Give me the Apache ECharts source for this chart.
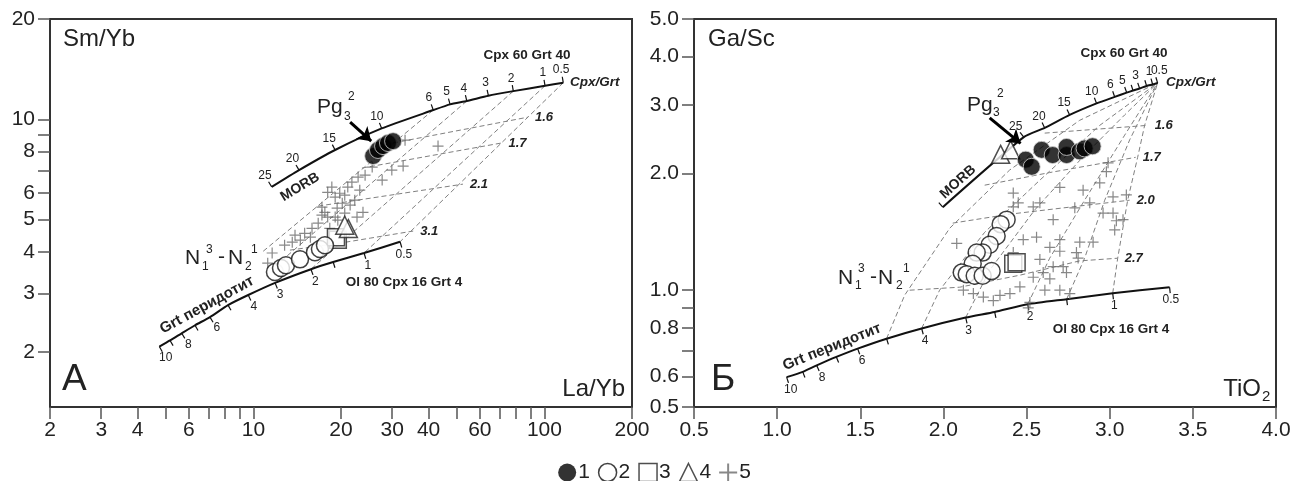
<!DOCTYPE html>
<html>
<head>
<meta charset="utf-8">
<title>Sm/Yb – La/Yb и Ga/Sc – TiO2</title>
<script src="https://cdn.jsdelivr.net/npm/echarts@6/dist/echarts.min.js"></script>
<style>
  html, body { margin: 0; padding: 0; background: #fff; }
  #chart { width: 1309px; height: 481px; }
</style>
</head>
<body>
<div id="chart"></div>
<script>
// ---------- panel A : La/Yb – Sm/Yb ----------
var aMorbMelt = ['25', '20', '15', '10', '6', '5', '4', '3', '2', '1', '0.5'];
var aMorbX = [11.56, 14.35, 19.08, 27.6, 41.5, 47.4, 54.1, 64.2, 78.2, 100.5, 116.1];
var aMorbY = [6.27, 7.04, 8.09, 9.39, 10.66, 11.09, 11.35, 11.77, 12.15, 12.61, 12.88];

var aPeridMelt = ['10', '', '8', '', '6', '', '4', '3', '2', '', '1', '0.5'];
var aPeridX = [4.75, 5.17, 5.67, 6.30, 7.09, 8.18, 9.60, 11.87, 15.77, 18.8, 24.0, 31.9];
var aPeridY = [2.08, 2.17, 2.28, 2.41, 2.55, 2.77, 2.97, 3.23, 3.55, 3.73, 3.97, 4.29];

var aMeltLines = [
  [[41.5, 10.66], [10.70, 3.99]],
  [[54.1, 11.35], [12.34, 3.73]],
  [[78.2, 12.15], [15.77, 3.55]],
  [[100.5, 12.61], [24.0, 3.97]],
  [[116.1, 12.88], [31.9, 4.29]]
];
var aRatioNames = ['1.6', '1.7', '2.1', '3.1'];
var aRatioLines = [
  [[30.2, 8.49], [87.8, 10.15]],
  [[23.6, 7.14], [71.2, 8.49]],
  [[16.7, 5.49], [52.5, 6.39]],
  [[13.35, 4.05], [19.8, 4.25], [25.2, 4.40], [35.4, 4.62]]
];

var aBlack = [[25.8, 7.76], [26.8, 8.09], [27.9, 8.31], [29.0, 8.49], [30.2, 8.60]];
var aWhite = [[11.86, 3.48], [12.44, 3.58], [12.94, 3.65], [14.46, 3.80], [16.28, 3.99], [16.93, 4.08], [17.62, 4.19]];
var aSquare = [[19.5, 4.35], [19.22, 4.43]];
var aTriangle = [[21.2, 4.70], [20.6, 4.81]];
var aCross = [
  [33.2, 8.66], [43.1, 8.31], [32.7, 7.24], [29.9, 7.04], [27.7, 6.57], [25.6, 7.19], [24.2, 6.80],
  [22.9, 6.71], [21.8, 6.48], [21.1, 6.26], [19.8, 6.00], [19.1, 5.84], [18.6, 6.26], [18.0, 6.04],
  [20.2, 5.60], [19.4, 5.41], [17.6, 5.26], [17.2, 5.16], [18.0, 5.09], [19.1, 5.09], [19.5, 4.98],
  [16.7, 4.88], [15.9, 4.71], [15.0, 4.55], [13.9, 4.49], [13.6, 4.28], [12.8, 4.19], [11.6, 3.97],
  [17.2, 5.45], [20.6, 5.23], [21.5, 5.53], [22.7, 5.09], [23.8, 5.26], [22.3, 5.72], [11.2, 3.70],
  [15.7, 4.43], [14.5, 4.34], [20.6, 5.92], [23.2, 6.13], [18.3, 4.71]
];
var aArrow = [[21.5, 9.81], [25.4, 8.60]];

// ---------- panel Б : TiO2 – Ga/Sc ----------
var bMorbMelt = ['', '25', '20', '15', '10', '6', '5', '', '3', '', '1', '0.5'];
var bMorbX = [1.996, 2.483, 2.609, 2.759, 2.921, 3.030, 3.102, 3.14, 3.180, 3.222, 3.258, 3.288];
var bMorbY = [1.637, 2.48, 2.62, 2.83, 3.03, 3.15, 3.23, 3.27, 3.31, 3.36, 3.39, 3.42];

var bPeridMelt = ['10', '', '8', '', '6', '', '4', '3', '', '2', '', '1', '0.5'];
var bPeridX = [1.057, 1.154, 1.238, 1.356, 1.484, 1.658, 1.869, 2.134, 2.308, 2.507, 2.741, 3.018, 3.360];
var bPeridY = [0.597, 0.616, 0.640, 0.673, 0.707, 0.750, 0.797, 0.850, 0.879, 0.920, 0.948, 0.982, 1.018];

var bMeltLines = [
  [[1.658, 0.750], [1.767, 0.971], [2.038, 1.445], [2.398, 2.04], [2.819, 2.74], [3.288, 3.42]],
  [[1.869, 0.797], [1.977, 1.000], [2.248, 1.41], [2.579, 1.92], [2.940, 2.66], [3.288, 3.42]],
  [[2.134, 0.850], [2.278, 1.126], [2.549, 1.61], [2.849, 2.23], [3.090, 2.83], [3.288, 3.42]],
  [[2.507, 0.920], [2.639, 1.209], [2.849, 1.706], [3.090, 2.51], [3.288, 3.42]],
  [[2.741, 0.948], [2.849, 1.209], [2.970, 1.706], [3.120, 2.44], [3.288, 3.42]],
  [[3.018, 0.982], [3.048, 1.209], [3.108, 1.706], [3.168, 2.20], [3.210, 2.66], [3.288, 3.42]]
];
var bRatioNames = ['1.6', '1.7', '2.0', '2.7'];
var bRatioLines = [
  [[2.609, 2.54], [3.228, 2.66]],
  [[2.248, 1.865], [2.639, 2.01], [3.156, 2.20]],
  [[2.056, 1.489], [2.398, 1.57], [2.759, 1.637], [3.120, 1.706]],
  [[1.797, 1.000], [2.098, 1.018], [2.459, 1.093], [2.819, 1.19], [3.048, 1.209]]
];

var bBlack = [[2.495, 2.17], [2.531, 2.08], [2.591, 2.30], [2.657, 2.23], [2.741, 2.23], [2.741, 2.34], [2.819, 2.28], [2.849, 2.32], [2.897, 2.35]];
var bWhite = [[2.380, 1.52], [2.344, 1.48], [2.320, 1.38], [2.278, 1.31], [2.236, 1.25], [2.200, 1.25],
              [2.176, 1.17], [2.110, 1.11], [2.140, 1.10], [2.188, 1.09], [2.236, 1.09], [2.290, 1.12]];
var bSquare = [[2.42, 1.17], [2.44, 1.18]];
var bTriangle = [[2.344, 2.24], [2.404, 2.30]];
var bCross = [
  [2.98, 2.02], [2.94, 1.89], [2.84, 1.81], [2.70, 1.84], [2.58, 1.68], [2.45, 1.68], [2.54, 1.64],
  [3.02, 1.74], [3.10, 1.76], [2.96, 1.58], [3.02, 1.58], [3.08, 1.52], [3.03, 1.43], [2.79, 1.63],
  [2.88, 1.68], [2.66, 1.52], [2.70, 1.35], [2.82, 1.33], [2.90, 1.33], [2.80, 1.25], [2.70, 1.26],
  [2.64, 1.29], [2.56, 1.37], [2.48, 1.35], [2.42, 1.25], [2.58, 1.20], [2.66, 1.15], [2.72, 1.15],
  [2.54, 1.08], [2.64, 1.07], [2.70, 1.00], [2.76, 0.98], [2.52, 0.93], [2.51, 0.90], [2.46, 1.02],
  [2.40, 0.98], [2.60, 1.11], [2.74, 1.11], [2.81, 1.21], [2.42, 1.64], [2.42, 1.78], [2.08, 1.32],
  [2.12, 1.00], [2.18, 0.98], [2.24, 0.96], [2.30, 0.94], [2.99, 2.13], [3.04, 1.51], [2.61, 1.00],
  [2.34, 0.97]
];
var bArrow = [[2.278, 2.78], [2.464, 2.39]];

// ---------- axes ----------
var laybTicks = [2, 3, 4, 5, 6, 7, 8, 9, 10, 20, 30, 40, 50, 60, 70, 80, 90, 100, 200];
var laybLabels = [2, 3, 4, 6, 10, 20, 30, 40, 60, 100, 200];
var smybTicks = [2, 3, 4, 5, 6, 7, 8, 9, 10, 20];
var smybLabels = [2, 3, 4, 5, 6, 8, 10, 20];
var gascTicks = [0.5, 0.6, 0.7, 0.8, 0.9, 1, 2, 3, 4, 5];
var gascLabels = [0.5, 0.6, 0.8, 1, 2, 3, 4, 5];

var FONT = '"Liberation Sans", Arial, sans-serif';
var PLUS = 'path://M4.45,0H5.55V4.45H10V5.55H5.55V10H4.45V5.55H0V4.45H4.45Z';

function pairs(xs, ys) {
  return xs.map(function (x, i) { return [x, ys[i]]; });
}

function axisBase(extra) {
  var a = {
    axisLine: { show: true, lineStyle: { color: '#333', width: 2 } },
    axisTick: { show: true, inside: false, length: 12, lineStyle: { color: '#555', width: 1.5 } },
    axisLabel: { fontSize: 21, color: '#222', fontFamily: FONT },
    splitLine: { show: false },
    minorTick: { show: false }
  };
  for (var k in extra) {
    if (typeof extra[k] === 'object' && a[k]) {
      for (var j in extra[k]) a[k][j] = extra[k][j];
    } else a[k] = extra[k];
  }
  return a;
}

function dashed(idx, pts, name) {
  var s = {
    type: 'line', xAxisIndex: idx, yAxisIndex: idx, data: pts, symbol: 'none', silent: true, z: 1,
    lineStyle: { color: '#808080', width: 1, type: [5, 3] }
  };
  if (name) {
    s.endLabel = {
      show: true, formatter: name, distance: 7, color: '#222', fontStyle: 'italic',
      fontWeight: 'bold', fontSize: 13, fontFamily: FONT
    };
  }
  return s;
}

function curve(idx, xs, ys) {
  return {
    type: 'line', xAxisIndex: idx, yAxisIndex: idx, data: pairs(xs, ys), symbol: 'none',
    smooth: 0.2, z: 3, silent: true, lineStyle: { color: '#111', width: 2 }
  };
}

// melting-degree ticks and their labels along a model curve
function curveTicks(idx, xs, ys, labels, side, lastLeft) {
  var n = xs.length;
  return {
    type: 'custom', xAxisIndex: idx, yAxisIndex: idx, data: pairs(xs, ys), z: 3, silent: true,
    renderItem: function (params, api) {
      var i = params.dataIndex;
      var p = api.coord([xs[i], ys[i]]);
      var i0 = Math.max(i - 1, 0), i1 = Math.min(i + 1, n - 1);
      var a = api.coord([xs[i0], ys[i0]]);
      var b = api.coord([xs[i1], ys[i1]]);
      var dx = b[0] - a[0], dy = b[1] - a[1];
      var L = Math.sqrt(dx * dx + dy * dy) || 1;
      var nx = side * dy / L, ny = -side * dx / L;
      var kids = [{
        type: 'line',
        shape: { x1: p[0], y1: p[1], x2: p[0] + nx * 6, y2: p[1] + ny * 6 },
        style: { stroke: '#111', lineWidth: 1.2 }
      }];
      if (labels[i]) {
        var left = lastLeft && i === n - 1;
        kids.push({
          type: 'text',
          style: {
            text: labels[i], x: p[0] + nx * 13 + (left ? -3 : 0), y: p[1] + ny * 13,
            align: left ? 'left' : 'center', verticalAlign: 'middle',
            font: '12px ' + FONT, fill: '#222'
          }
        });
      }
      return { type: 'group', children: kids };
    }
  };
}

function dots(idx, name, pts, symbol, size, style, z) {
  return {
    type: 'scatter', name: name, xAxisIndex: idx, yAxisIndex: idx, data: pts,
    symbol: symbol, symbolSize: size, itemStyle: style, z: z, silent: true
  };
}

function arrow(idx, pts) {
  return {
    type: 'lines', coordinateSystem: 'cartesian2d', xAxisIndex: idx, yAxisIndex: idx, z: 8,
    silent: true, symbol: ['none', 'arrow'], symbolSize: 13,
    lineStyle: { color: '#000', width: 3, opacity: 1 },
    data: [{ coords: pts }]
  };
}

function txt(text, x, y, size, opt) {
  opt = opt || {};
  return {
    type: 'text', x: x, y: y, rotation: opt.rot || 0, z: 20, silent: true,
    style: {
      text: text, fill: '#222',
      font: (opt.style || '') + ' ' + (opt.weight || 'normal') + ' ' + size + 'px ' + FONT,
      align: opt.align || 'left', verticalAlign: 'middle'
    }
  };
}

var blackStyle = { color: '#000', borderColor: '#cfcfcf', borderWidth: 1 };
var whiteStyle = { color: '#fff', borderColor: '#111', borderWidth: 1.5 };
var openStyle = { color: '#fff', borderColor: '#222', borderWidth: 1.5 };
var crossStyle = { color: '#6a6a6a' };

var series = [];
function addPanel(idx, morbX, morbY, morbMelt, peridX, peridY, peridMelt, meltLines, ratioLines, ratioNames,
                  black, white, square, triangle, cross, arr, lastLeft) {
  meltLines.forEach(function (l) { series.push(dashed(idx, l)); });
  ratioLines.forEach(function (l, k) { series.push(dashed(idx, l, ratioNames[k])); });
  series.push(curve(idx, morbX, morbY));
  series.push(curve(idx, peridX, peridY));
  series.push(curveTicks(idx, morbX, morbY, morbMelt, 1, lastLeft));
  series.push(curveTicks(idx, peridX, peridY, peridMelt, -1, false));
  series.push(dots(idx, '5', cross, PLUS, 11, crossStyle, 4));
  series.push(dots(idx, '3', square, 'rect', 17, openStyle, 5));
  series.push(dots(idx, '4', triangle, 'triangle', 18, openStyle, 5));
  series.push(dots(idx, '2', white, 'circle', 17, whiteStyle, 6));
  series.push(dots(idx, '1', black, 'circle', 17, blackStyle, 7));
  series.push(arrow(idx, arr));
}
addPanel(0, aMorbX, aMorbY, aMorbMelt, aPeridX, aPeridY, aPeridMelt, aMeltLines, aRatioLines, aRatioNames,
         aBlack, aWhite, aSquare, aTriangle, aCross, aArrow, false);
addPanel(1, bMorbX, bMorbY, bMorbMelt, bPeridX, bPeridY, bPeridMelt, bMeltLines, bRatioLines, bRatioNames,
         bBlack, bWhite, bSquare, bTriangle, bCross, bArrow, true);

var graphics = [
  // panel A
  txt('Sm/Yb', 63, 39, 24),
  txt('La/Yb', 625, 389, 24, { align: 'right' }),
  txt('А', 62, 380, 37),
  txt('MORB', 300, 187, 14, { weight: 'bold', rot: 0.55, align: 'center' }),
  txt('Grt перидотит', 207, 305, 15, { weight: 'bold', rot: 0.50, align: 'center' }),
  txt('Cpx 60 Grt 40', 527, 55, 13.5, { weight: 'bold', align: 'center' }),
  txt('Cpx/Grt', 570, 82, 13.5, { weight: 'bold', style: 'italic' }),
  txt('Ol 80 Cpx 16 Grt 4', 404, 282, 13.5, { weight: 'bold', align: 'center' }),
  txt('Pg', 317, 107, 21),
  txt('3', 344, 117, 12),
  txt('2', 348, 97, 12),
  txt('N', 185, 258, 21),
  txt('1', 202, 267, 12),
  txt('3', 206, 250, 12),
  txt('-', 218, 257, 21),
  txt('N', 228, 258, 21),
  txt('2', 245, 267, 12),
  txt('1', 251, 250, 12),
  // panel Б
  txt('Ga/Sc', 708, 39, 24),
  txt('TiO', 1261, 389, 24, { align: 'right' }),
  txt('2', 1262, 397, 15),
  txt('Б', 711, 380, 37),
  txt('MORB', 958, 182, 14, { weight: 'bold', rot: 0.73, align: 'center' }),
  txt('Grt перидотит', 832, 347, 15, { weight: 'bold', rot: 0.38, align: 'center' }),
  txt('Cpx 60 Grt 40', 1124, 53, 13.5, { weight: 'bold', align: 'center' }),
  txt('Cpx/Grt', 1166, 82, 13.5, { weight: 'bold', style: 'italic' }),
  txt('Ol 80 Cpx 16 Grt 4', 1111, 329, 13.5, { weight: 'bold', align: 'center' }),
  txt('Pg', 967, 105, 21),
  txt('3', 993, 113, 12),
  txt('2', 997, 94, 12),
  txt('N', 838, 278, 21),
  txt('1', 855, 286, 12),
  txt('3', 858, 269, 12),
  txt('-', 870, 277, 21),
  txt('N', 878, 278, 21),
  txt('2', 896, 286, 12),
  txt('1', 903, 269, 12)
];

var chart = echarts.init(document.getElementById('chart'));
chart.setOption({
  animation: false,
  backgroundColor: '#fff',
  textStyle: { fontFamily: FONT },
  grid: [
    { left: 50, top: 19, width: 582, height: 388, show: true, borderColor: '#333', borderWidth: 2 },
    { left: 694, top: 19, width: 582, height: 388, show: true, borderColor: '#333', borderWidth: 2 }
  ],
  xAxis: [
    axisBase({
      gridIndex: 0, type: 'log', logBase: 10, min: 2, max: 200,
      axisTick: { customValues: laybTicks },
      axisLabel: { customValues: laybLabels, margin: 13, formatter: function (v) { return String(Math.round(v)); } }
    }),
    axisBase({
      gridIndex: 1, type: 'value', min: 0.5, max: 4, interval: 0.5,
      axisLabel: { margin: 13, formatter: function (v) { return v.toFixed(1); } }
    })
  ],
  yAxis: [
    axisBase({
      gridIndex: 0, type: 'log', logBase: 10, min: 1.37, max: 20,
      axisTick: { customValues: smybTicks },
      axisLabel: { customValues: smybLabels, margin: 15, formatter: function (v) { return String(Math.round(v)); } }
    }),
    axisBase({
      gridIndex: 1, type: 'log', logBase: 10, min: 0.5, max: 5,
      axisTick: { customValues: gascTicks },
      axisLabel: { customValues: gascLabels, margin: 15, formatter: function (v) { return (+v).toFixed(1); } }
    })
  ],
  legend: {
    left: 'center', top: 457, itemWidth: 18, itemHeight: 18, itemGap: 8, selectedMode: false,
    textStyle: { fontSize: 21, color: '#222', fontFamily: FONT, padding: [0, 0, 0, -3] },
    data: [
      { name: '1', icon: 'circle', itemStyle: { color: '#000', borderWidth: 0 } },
      { name: '2', icon: 'circle', itemStyle: { color: '#fff', borderColor: '#111', borderWidth: 1.5 } },
      { name: '3', icon: 'rect', itemStyle: { color: '#fff', borderColor: '#222', borderWidth: 1.5 } },
      { name: '4', icon: 'triangle', itemStyle: { color: '#fff', borderColor: '#222', borderWidth: 1.5 } },
      { name: '5', icon: PLUS, itemStyle: { color: '#6a6a6a', borderWidth: 0 } }
    ]
  },
  graphic: graphics,
  series: series
});
</script>
</body>
</html>
